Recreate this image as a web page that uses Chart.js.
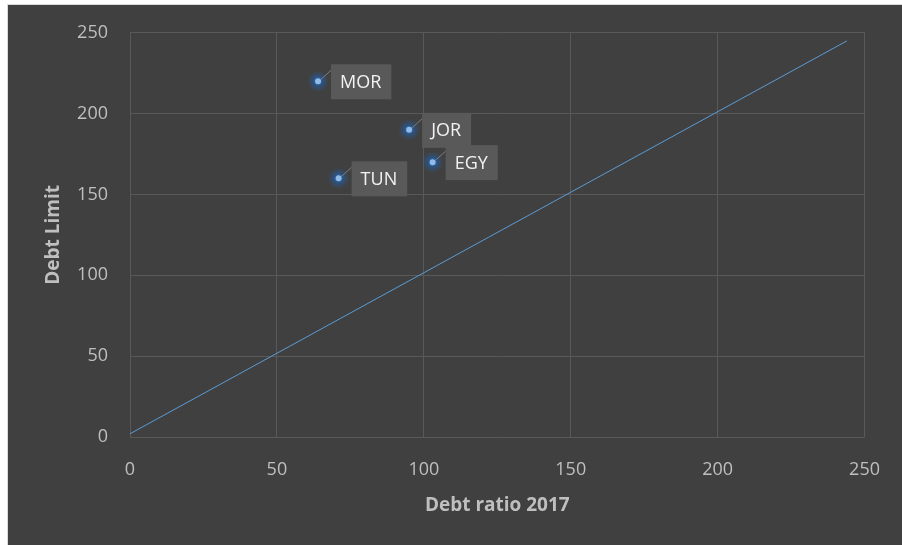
<!DOCTYPE html>
<html>
<head>
<meta charset="utf-8">
<script src="https://cdn.jsdelivr.net/npm/chart.js@4.4.0/dist/chart.umd.min.js"></script>
<style>
  body { margin: 0; background: #ffffff; }
  #wrap { position: absolute; left: 0; top: 0; width: 902px; height: 545px; }
</style>
</head>
<body>
<div id="wrap"><canvas id="chart" width="902" height="545"></canvas></div>
<script>
var countries = ["MOR", "JOR", "EGY", "TUN"];
var debtRatio = [64, 95, 103, 71];
var debtLimit = [220, 190, 170, 160];

var lineX = [0, 244];
var lineY = [2, 245];

var xTicks = [0, 50, 100, 150, 200, 250];
var yTicks = [0, 50, 100, 150, 200, 250];

var points = [];
for (var i = 0; i < countries.length; i++) {
    points.push({ x: debtRatio[i], y: debtLimit[i] });
}
var diag = [];
for (var j = 0; j < lineX.length; j++) {
    diag.push({ x: lineX[j], y: lineY[j] });
}

var bgPlugin = {
    id: "bg",
    beforeDraw: function(chart) {
        var c = chart.ctx;
        c.save();
        c.fillStyle = "#d9d9d9";
        c.fillRect(7, 4, 895, 541);
        c.fillStyle = "#404040";
        c.fillRect(8, 5, 894, 540);
        c.restore();
    }
};

// soft dark-blue glow behind the markers
var glowPlugin = {
    id: "glow",
    beforeDatasetsDraw: function(chart) {
        var c = chart.ctx;
        var meta = chart.getDatasetMeta(0);
        c.save();
        meta.data.forEach(function(el) {
            var g = c.createRadialGradient(el.x, el.y, 3, el.x, el.y, 11);
            g.addColorStop(0, "rgba(40, 90, 150, 0.8)");
            g.addColorStop(1, "rgba(40, 90, 150, 0)");
            c.fillStyle = g;
            c.beginPath();
            c.arc(el.x, el.y, 11, 0, Math.PI * 2);
            c.fill();
        });
        c.restore();
    }
};

var labelPlugin = {
    id: "boxLabels",
    afterDatasetsDraw: function(chart) {
        var c = chart.ctx;
        var meta = chart.getDatasetMeta(0);
        c.save();
        c.font = "18px 'Open Sans'";
        c.textBaseline = "middle";
        meta.data.forEach(function(el, i) {
            var px = el.x, py = el.y;
            var text = countries[i];
            var w = c.measureText(text).width + 19;
            var bx = px + 13, by = py - 17, h = 35;
            c.strokeStyle = "#7f7f7f";
            c.lineWidth = 1;
            c.beginPath();
            c.moveTo(px + 3, py - 2);
            c.lineTo(bx, by + 6);
            c.stroke();
            c.fillStyle = "#595959";
            c.fillRect(bx, by, w, h);
            c.fillStyle = "#f2f2f2";
            c.fillText(text, bx + 9, by + h / 2 + 1);
        });
        c.restore();
    }
};

var ctx = document.getElementById("chart");

var chart = new Chart(ctx, {
    type: "scatter",
    data: {
        datasets: [
            {
                label: "Countries",
                data: points,
                pointRadius: 4,
                pointBackgroundColor: "#8fbbe6",
                pointBorderColor: "rgba(38, 84, 140, 0.9)",
                pointBorderWidth: 2,
                showLine: false
            },
            {
                label: "Line",
                data: diag,
                showLine: true,
                borderColor: "#5b9bd5",
                borderWidth: 1,
                pointRadius: 0,
                fill: false
            }
        ]
    },
    options: {
        responsive: false,
        animation: false,
        layout: {
            padding: { left: 42, top: 32, right: 35, bottom: 28 }
        },
        plugins: {
            legend: { display: false },
            tooltip: { enabled: false }
        },
        scales: {
            x: {
                type: "linear",
                min: 0,
                max: 250,
                afterBuildTicks: function(axis) {
                    axis.ticks = xTicks.map(function(v) { return { value: v }; });
                },
                afterFit: function(axis) { axis.height = 80; },
                grid: { color: "#595959", drawTicks: false, lineWidth: 1 },
                border: { display: false },
                ticks: {
                    color: "#bfbfbf",
                    font: { family: "'Open Sans'", size: 18 },
                    padding: 22,
                    maxRotation: 0
                },
                title: {
                    display: true,
                    text: "Debt ratio 2017",
                    color: "#bfbfbf",
                    font: { family: "'Open Sans'", size: 19, weight: "bold" },
                    padding: 0
                }
            },
            y: {
                type: "linear",
                min: 0,
                max: 250,
                afterBuildTicks: function(axis) {
                    axis.ticks = yTicks.map(function(v) { return { value: v }; });
                },
                afterFit: function(axis) { axis.width = 88; },
                grid: { color: "#595959", drawTicks: false, lineWidth: 1 },
                border: { display: false },
                ticks: {
                    color: "#bfbfbf",
                    font: { family: "'Open Sans'", size: 18 },
                    padding: 22
                },
                title: {
                    display: true,
                    text: "Debt Limit",
                    color: "#bfbfbf",
                    font: { family: "'Open Sans'", size: 19, weight: "bold" },
                    padding: 0
                }
            }
        }
    },
    plugins: [bgPlugin, glowPlugin, labelPlugin]
});
</script>
</body>
</html>
